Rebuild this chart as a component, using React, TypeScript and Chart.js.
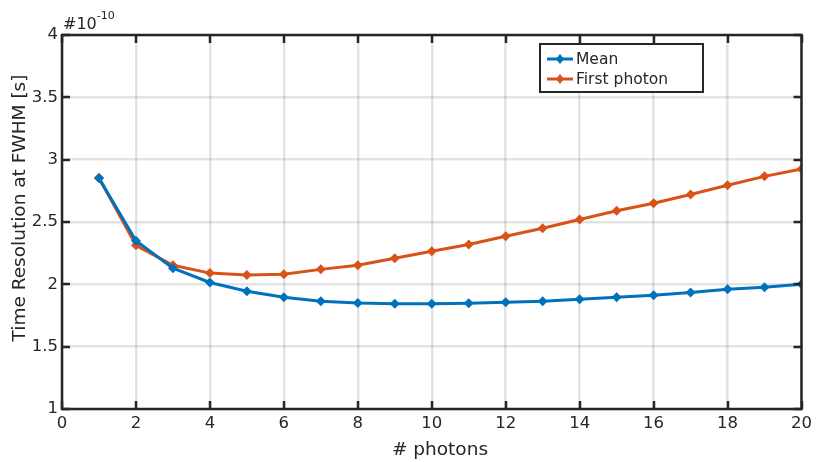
import React, { useEffect, useRef } from "react";
import { Chart, registerables } from "chart.js";

Chart.register(...registerables);

const photons = [1, 2, 3, 4, 5, 6, 7, 8, 9, 10, 11, 12, 13, 14, 15, 16, 17, 18, 19, 20];
const meanValues = [2.85, 2.35, 2.13, 2.015, 1.945, 1.897, 1.865, 1.85, 1.845, 1.845, 1.848, 1.856, 1.865, 1.88, 1.897, 1.913, 1.935, 1.96, 1.977, 2.0];
const firstPhotonValues = [2.855, 2.313, 2.153, 2.09, 2.075, 2.08, 2.12, 2.153, 2.21, 2.265, 2.32, 2.385, 2.45, 2.52, 2.59, 2.65, 2.72, 2.795, 2.866, 2.925];
const seriesLabels = ["Mean", "First photon"];
const xTitle = "# photons";
const yTitle = "Time Resolution at FWHM [s]";
const exponentBase = "#10";
const exponentPower = "-10";

const BLUE = "#0072BD";
const ORANGE = "#D95319";
const AXIS = "#262626";
const FONT = "'DejaVu Sans', Verdana, sans-serif";

const decorPlugin = {
  id: "decor",
  afterDraw(chart: any) {
    const ctx = chart.ctx as CanvasRenderingContext2D;
    const { left, right, top, bottom } = chart.chartArea;
    const xs = chart.scales.x;
    const ys = chart.scales.y;
    ctx.save();
    // box
    ctx.strokeStyle = AXIS;
    ctx.lineWidth = 2.5;
    ctx.strokeRect(left, top, right - left, bottom - top);
    // inward ticks
    const tl = 8;
    ctx.beginPath();
    xs.ticks.forEach((t: any) => {
      const px = Math.round(xs.getPixelForValue(t.value));
      ctx.moveTo(px, bottom);
      ctx.lineTo(px, bottom - tl);
      ctx.moveTo(px, top);
      ctx.lineTo(px, top + tl);
    });
    ys.ticks.forEach((t: any) => {
      const py = Math.round(ys.getPixelForValue(t.value));
      ctx.moveTo(left, py);
      ctx.lineTo(left + tl, py);
      ctx.moveTo(right, py);
      ctx.lineTo(right - tl, py);
    });
    ctx.stroke();

    // exponent label
    ctx.fillStyle = AXIS;
    ctx.textBaseline = "alphabetic";
    ctx.textAlign = "left";
    ctx.font = `16px ${FONT}`;
    ctx.fillText(exponentBase, left + 1, top - 6);
    const w = ctx.measureText(exponentBase).width;
    ctx.font = `11px ${FONT}`;
    ctx.fillText(exponentPower, left + 1 + w, top - 16);

    // axis titles
    ctx.font = `18.5px ${FONT}`;
    ctx.textAlign = "center";
    ctx.textBaseline = "middle";
    ctx.fillText(xTitle, 440, 450);
    ctx.save();
    ctx.translate(20, 208);
    ctx.rotate(-Math.PI / 2);
    ctx.fillText(yTitle, 0, 0);
    ctx.restore();

    // legend
    const lx = 540, ly = 44, lw = 163, lh = 48;
    ctx.fillStyle = "#ffffff";
    ctx.fillRect(lx, ly, lw, lh);
    ctx.strokeStyle = AXIS;
    ctx.lineWidth = 2;
    ctx.strokeRect(lx, ly, lw, lh);
    const colors = [BLUE, ORANGE];
    const rows = [59, 79];
    ctx.font = `15.5px ${FONT}`;
    ctx.textAlign = "left";
    ctx.textBaseline = "middle";
    seriesLabels.forEach((lab, i) => {
      const y = rows[i];
      ctx.strokeStyle = colors[i];
      ctx.lineWidth = 3;
      ctx.beginPath();
      ctx.moveTo(547, y);
      ctx.lineTo(573, y);
      ctx.stroke();
      ctx.fillStyle = colors[i];
      ctx.beginPath();
      ctx.moveTo(560, y - 5);
      ctx.lineTo(564, y);
      ctx.lineTo(560, y + 5);
      ctx.lineTo(556, y);
      ctx.closePath();
      ctx.fill();
      ctx.fillStyle = AXIS;
      ctx.fillText(lab, 576, y + 1);
    });
    ctx.restore();
  },
};

export default function App() {
  const ref = useRef<HTMLCanvasElement>(null);
  useEffect(() => {
    document.body.style.margin = "0";
    const canvas = ref.current!;
    const mk = (vals: number[]) => vals.map((v, i) => ({ x: photons[i], y: v }));
    const chart = new Chart(canvas, {
      type: "line",
      data: {
        datasets: [
          {
            label: seriesLabels[0],
            data: mk(meanValues),
            borderColor: BLUE,
            backgroundColor: BLUE,
            borderWidth: 3,
            pointStyle: "rectRot",
            pointRadius: 5,
            pointBorderWidth: 0,
            tension: 0,
          },
          {
            label: seriesLabels[1],
            data: mk(firstPhotonValues),
            borderColor: ORANGE,
            backgroundColor: ORANGE,
            borderWidth: 3,
            pointStyle: "rectRot",
            pointRadius: 5,
            pointBorderWidth: 0,
            tension: 0,
          },
        ],
      },
      options: {
        responsive: false,
        animation: false,
        devicePixelRatio: 1,
        layout: { padding: { left: 0, right: 14, top: 35, bottom: 0 } },
        plugins: { legend: { display: false }, tooltip: { enabled: false } },
        scales: {
          x: {
            type: "linear",
            min: 0,
            max: 20,
            afterFit: (s: any) => { s.height = 53; },
            grid: { color: "rgba(0,0,0,0.11)", lineWidth: 2.5, drawTicks: false },
            border: { display: false },
            ticks: {
              stepSize: 2,
              padding: 5,
              color: AXIS,
              font: { family: FONT, size: 16.5 },
            },
          },
          y: {
            min: 1,
            max: 4,
            afterFit: (s: any) => { s.width = 62; },
            grid: { color: "rgba(0,0,0,0.11)", lineWidth: 2.5, drawTicks: false },
            border: { display: false },
            ticks: {
              stepSize: 0.5,
              padding: 4,
              color: AXIS,
              font: { family: FONT, size: 16.5 },
              callback: (v: any) => String(v),
            },
          },
        },
      },
      plugins: [decorPlugin],
    });
    return () => chart.destroy();
  }, []);
  return (
    <div style={{ width: 817, height: 462 }}>
      <canvas ref={ref} width={817} height={462} style={{ display: "block" }} />
    </div>
  );
}
